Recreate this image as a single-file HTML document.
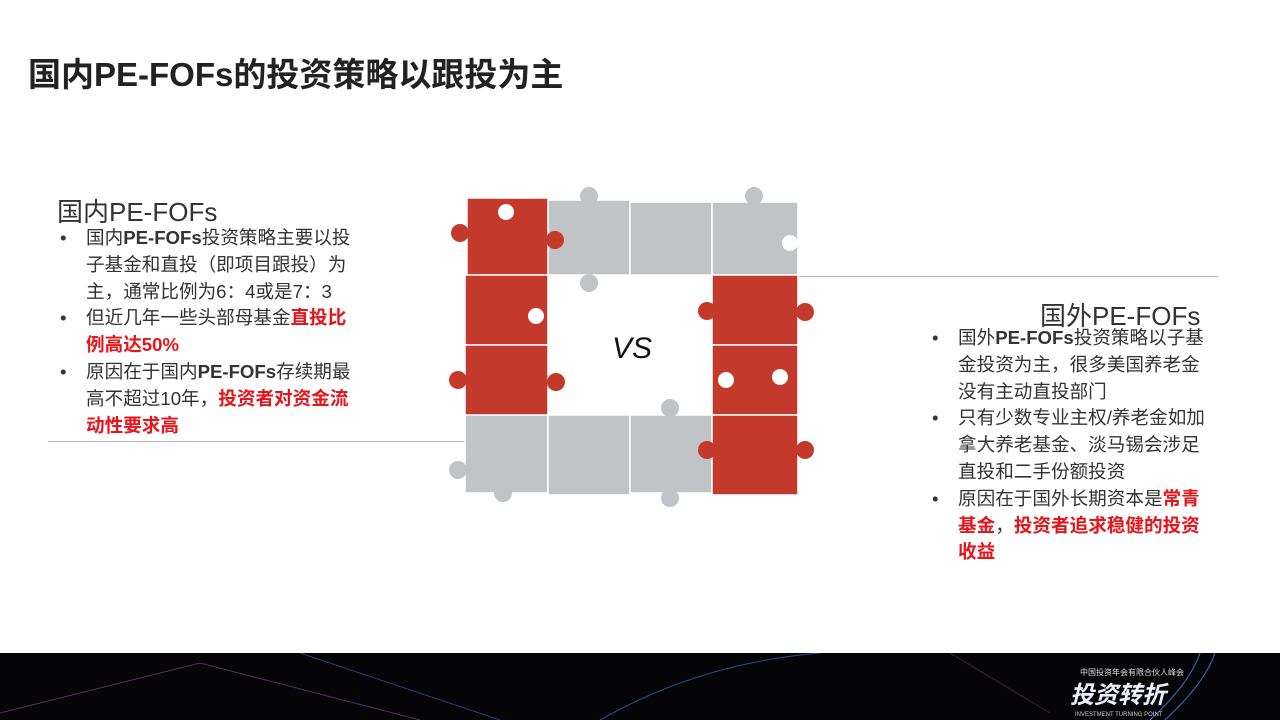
<!DOCTYPE html>
<html><head><meta charset="utf-8"><style>
body{margin:0;width:1280px;height:720px;position:relative;overflow:hidden;background:#fff;font-family:"Liberation Sans","Noto Sans CJK SC",sans-serif;}
.t{position:absolute;left:28px;top:48px;font-size:33px;font-weight:bold;color:#222;}
.h{position:absolute;font-size:26px;color:#333;}
ul{position:absolute;margin:0;padding:0;list-style:none;font-size:18.6px;line-height:26.8px;color:#333;white-space:nowrap;}
li{position:relative;padding-left:30px;}
li:before{content:"•";position:absolute;left:4px;}
.r{color:#e8141b;font-weight:bold;}
.line{position:absolute;height:1px;background:#bbb;}
</style></head><body>
<div class="t">国内PE-FOFs的投资策略以跟投为主</div>
<div class="h" style="left:57px;top:192px">国内PE-FOFs</div>
<ul style="left:56px;top:225px;">
<li>国内<b>PE-FOFs</b>投资策略主要以投<br>子基金和直投（即项目跟投）为<br>主，通常比例为6：4或是7：3</li>
<li>但近几年一些头部母基金<span class="r">直投比<br>例高达50%</span></li>
<li>原因在于国内<b>PE-FOFs</b>存续期最<br>高不超过10年，<span class="r">投资者对资金流<br>动性要求高</span></li>
</ul>
<div class="line" style="left:48px;top:441px;width:420px"></div>
<div class="line" style="left:798px;top:276px;width:420px"></div>
<div class="h" style="left:1040px;top:296px">国外PE-FOFs</div>
<ul style="left:928px;top:325px;">
<li>国外<b>PE-FOFs</b>投资策略以子基<br>金投资为主，很多美国养老金<br>没有主动直投部门</li>
<li>只有少数专业主权/养老金如加<br>拿大养老基金、淡马锡会涉足<br>直投和二手份额投资</li>
<li>原因在于国外长期资本是<span class="r">常青<br>基金</span>，<span class="r">投资者追求稳健的投资<br>收益</span></li>
</ul>
<svg style="position:absolute;left:0;top:0" width="1280" height="720">
<g fill="#c0c4c7" stroke="#fff" stroke-width="1.5">
<rect x="548" y="200" width="82" height="75"/><rect x="630" y="202" width="82" height="73"/><rect x="712" y="202" width="86" height="73"/>
<rect x="465" y="415" width="83" height="78"/><rect x="548" y="415" width="82" height="80"/><rect x="630" y="415" width="82" height="78"/>
</g>
<g fill="#c0c4c7">
<circle cx="589" cy="196" r="9"/><circle cx="754" cy="196" r="9"/><circle cx="589" cy="283" r="9"/>
<circle cx="503" cy="493" r="9"/><circle cx="670" cy="498" r="9"/><circle cx="670" cy="408" r="9"/><circle cx="458" cy="470" r="9"/>
</g>
<g fill="#c33a2c" stroke="#fff" stroke-width="1.5">
<rect x="467" y="198" width="81" height="77"/><rect x="465" y="275" width="83" height="70"/><rect x="465" y="345" width="83" height="70"/>
<rect x="712" y="275" width="86" height="70"/><rect x="712" y="345" width="86" height="70"/><rect x="712" y="415" width="86" height="80"/>
</g>
<g fill="#c33a2c">
<circle cx="460" cy="233" r="9"/><circle cx="555" cy="240" r="9"/><circle cx="458" cy="380" r="9"/><circle cx="556" cy="382" r="9"/>
<circle cx="805" cy="312" r="9"/><circle cx="707" cy="311" r="9"/><circle cx="805" cy="450" r="9"/><circle cx="707" cy="450" r="9"/>
</g>
<g fill="#fff"><circle cx="506" cy="212" r="8"/><circle cx="536" cy="316" r="8"/><circle cx="780" cy="377" r="8"/><circle cx="726" cy="380" r="8"/><circle cx="790" cy="243" r="8"/></g>
<text x="612" y="358" font-family="Liberation Sans,sans-serif" font-style="italic" font-size="30" fill="#111">VS</text>
</svg>
<div style="position:absolute;left:0;top:653px;width:1280px;height:67px;background:#050508;overflow:hidden">
<svg width="1280" height="67"><g stroke-width="1" fill="none">
<path d="M0 60 L200 10 L420 67" stroke="#503060"/><path d="M300 0 L500 67" stroke="#204080"/>
<path d="M600 67 Q700 10 820 0" stroke="#2050a0"/><path d="M1150 67 Q1190 30 1200 0" stroke="#3a70d0"/><path d="M1165 67 Q1205 30 1215 0" stroke="#3a70d0"/>
<path d="M950 0 L1050 60" stroke="#402040"/></g>
<text x="1080" y="22" fill="#ddd" font-size="8">中国投资年会有限合伙人峰会</text>
<text x="1070" y="50" fill="#eef" font-size="24" font-weight="bold" font-style="italic">投资转折</text>
<text x="1075" y="63" fill="#ccc" font-size="6">INVESTMENT TURNING POINT</text></svg>
</div>
</body></html>
